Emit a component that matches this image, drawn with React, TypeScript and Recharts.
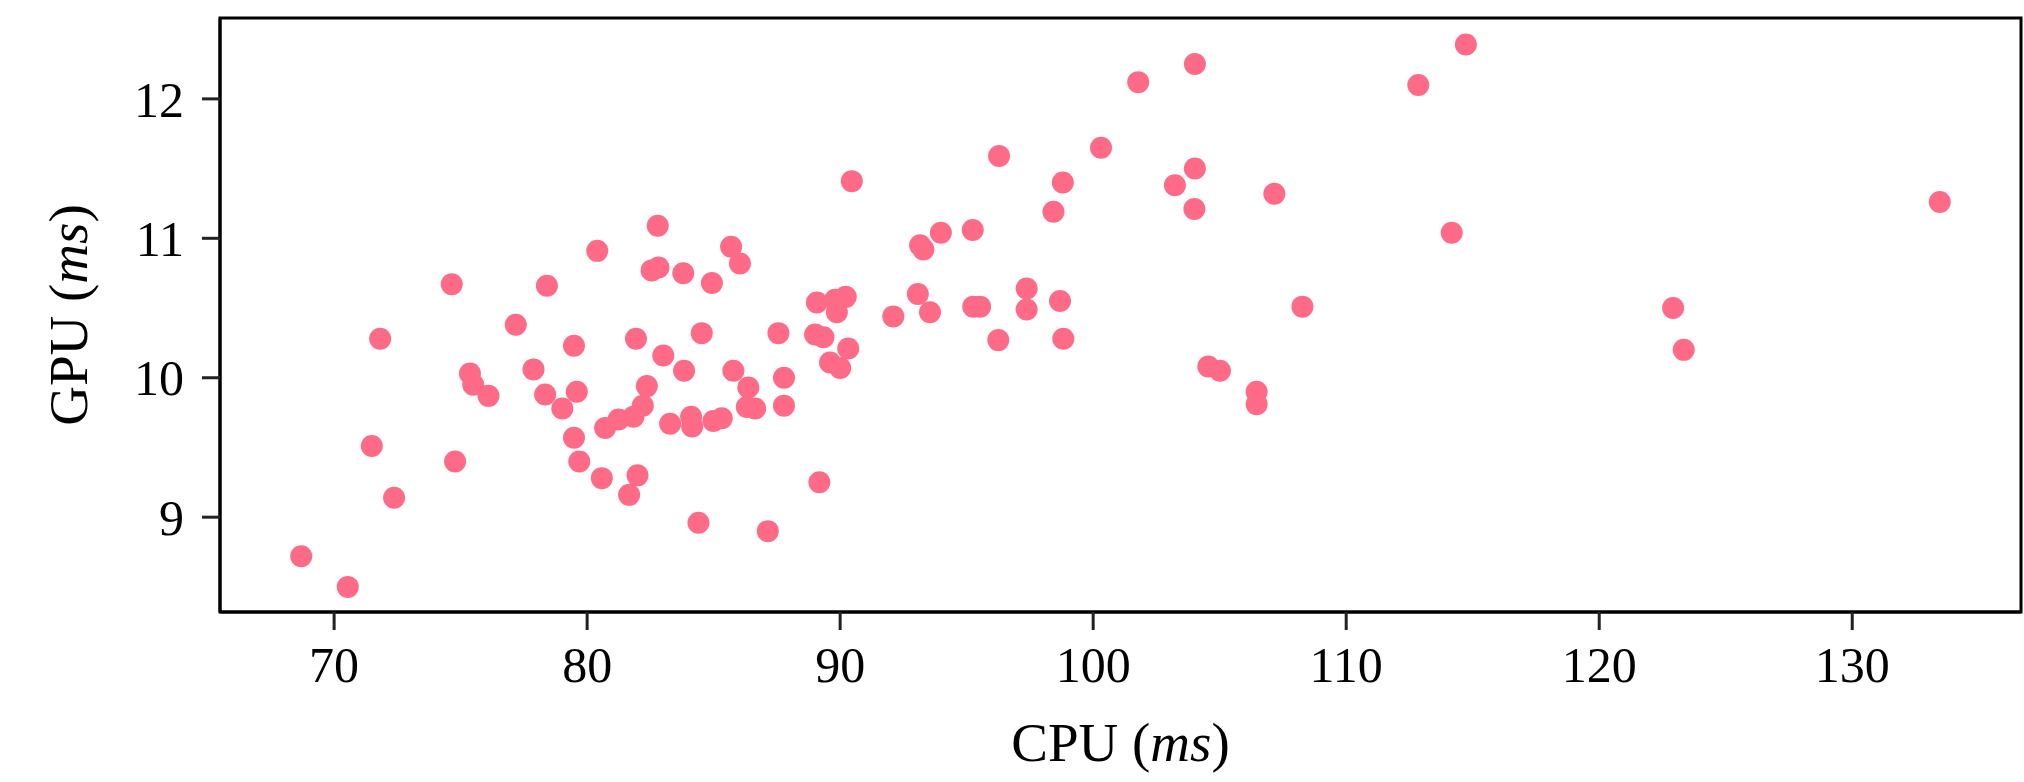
import React from 'react';
import { ScatterChart, Scatter, XAxis, YAxis, ReferenceArea } from 'recharts';

// CPU frame time (ms) for each sample
const cpuMs = [
  74.65, 78.41, 77.18, 80.40, 82.79, 82.55, 82.82, 83.80, 84.93, 71.82,
  75.37, 75.50, 76.10, 77.88, 79.48, 78.34, 79.59, 79.02, 81.93, 83.01,
  83.83, 82.36, 82.20, 81.83, 81.24, 80.71, 83.28, 84.11, 84.15, 79.48,
  79.69, 80.58, 81.99, 81.66, 84.40, 71.49, 74.78, 72.37, 68.70, 70.54,
  84.53, 90.46, 96.28, 100.31, 101.78, 98.80, 98.43, 103.23, 85.69, 86.04,
  89.08, 89.80, 90.22, 89.87, 92.10, 93.07, 93.55, 93.16, 93.29, 93.98,
  95.24, 95.26, 95.53, 97.37, 97.37, 98.69, 87.56, 89.01, 89.34, 90.32,
  89.60, 90.00, 85.78, 86.37, 86.31, 86.64, 87.78, 87.78, 84.99, 85.32,
  96.25, 98.82, 89.18, 87.14, 104.02, 114.73, 112.85, 104.02, 104.00, 107.16,
  114.17, 108.27, 104.55, 105.01, 106.46, 106.46, 133.46, 122.92, 123.34,
];

// GPU frame time (ms) for each sample
const gpuMs = [
  10.67, 10.66, 10.38, 10.91, 11.09, 10.77, 10.79, 10.75, 10.68, 10.28,
  10.03, 9.95, 9.87, 10.06, 10.23, 9.88, 9.90, 9.78, 10.28, 10.16,
  10.05, 9.94, 9.80, 9.72, 9.70, 9.64, 9.67, 9.72, 9.65, 9.57,
  9.40, 9.28, 9.30, 9.16, 8.96, 9.51, 9.40, 9.14, 8.72, 8.50,
  10.32, 11.41, 11.59, 11.65, 12.12, 11.40, 11.19, 11.38, 10.94, 10.82,
  10.54, 10.56, 10.58, 10.47, 10.44, 10.60, 10.47, 10.95, 10.92, 11.04,
  11.06, 10.51, 10.51, 10.64, 10.49, 10.55, 10.32, 10.31, 10.29, 10.21,
  10.11, 10.07, 10.05, 9.93, 9.79, 9.78, 10.00, 9.80, 9.69, 9.71,
  10.27, 10.28, 9.25, 8.90, 12.25, 12.39, 12.10, 11.50, 11.21, 11.32,
  11.04, 10.51, 10.08, 10.05, 9.90, 9.81, 11.26, 10.50, 10.20,
];

const xTicks = [70, 80, 90, 100, 110, 120, 130];
const yTicks = [9, 10, 11, 12];
const xDomain: [number, number] = [65.49, 136.67];
const yDomain: [number, number] = [8.32, 12.58];

const points = cpuMs.map((c, i) => ({ cpu: c, gpu: gpuMs[i] }));

const FONT = '"Liberation Serif", "DejaVu Serif", serif';
const FONT_SIZE = 50;
const LABEL_SIZE = 55;
const DOT_COLOR = '#ff6a87';

const Dot = (props: any) => {
  const { cx, cy } = props;
  if (cx == null || cy == null) return null;
  return <circle cx={cx} cy={cy} r={11} fill={DOT_COLOR} />;
};

const XLabel = (props: any) => {
  const vb = props.viewBox || { x: 220, y: 612, width: 1801, height: 170 };
  return (
    <text
      x={vb.x + vb.width / 2}
      y={vb.y + 149}
      textAnchor="middle"
      fontFamily={FONT}
      fontSize={LABEL_SIZE}
      fill="#000"
    >
      CPU (<tspan fontStyle="italic">ms</tspan>)
    </text>
  );
};

const YLabel = (props: any) => {
  const vb = props.viewBox || { x: 0, y: 18, width: 220, height: 594 };
  const cx = 87;
  const cy = vb.y + vb.height / 2;
  return (
    <text
      x={cx}
      y={cy}
      transform={`rotate(-90 ${cx} ${cy})`}
      textAnchor="middle"
      fontFamily={FONT}
      fontSize={LABEL_SIZE}
      fill="#000"
    >
      GPU (<tspan fontStyle="italic">ms</tspan>)
    </text>
  );
};

export default function App() {
  return (
    <div style={{ position: 'absolute', left: 0, top: 0, width: 2024, height: 782, background: '#fff' }}>
      <ScatterChart
        width={2024}
        height={782}
        margin={{ top: 18, right: 3, bottom: 0, left: 0 }}
      >
        <XAxis
          type="number"
          dataKey="cpu"
          domain={xDomain}
          ticks={xTicks}
          interval={0}
          allowDataOverflow
          height={170}
          tickSize={18}
          tickMargin={16}
          axisLine={{ stroke: '#000', strokeWidth: 3 }}
          tickLine={{ stroke: '#222', strokeWidth: 3 }}
          tick={{ fill: '#000', fontSize: FONT_SIZE, fontFamily: FONT }}
          label={(p: any) => <XLabel {...p} />}
        />
        <YAxis
          type="number"
          dataKey="gpu"
          domain={yDomain}
          ticks={yTicks}
          interval={0}
          allowDataOverflow
          width={220}
          tickSize={18}
          tickMargin={18}
          axisLine={{ stroke: '#000', strokeWidth: 3 }}
          tickLine={{ stroke: '#222', strokeWidth: 3 }}
          tick={{ fill: '#000', fontSize: FONT_SIZE, fontFamily: FONT }}
          label={(p: any) => <YLabel {...p} />}
        />
        <ReferenceArea
          x1={xDomain[0]}
          x2={xDomain[1]}
          y1={yDomain[0]}
          y2={yDomain[1]}
          fill="none"
          fillOpacity={0}
          stroke="#000"
          strokeWidth={3}
          ifOverflow="visible"
        />
        <Scatter data={points} fill={DOT_COLOR} shape={Dot} isAnimationActive={false} />
      </ScatterChart>
    </div>
  );
}
